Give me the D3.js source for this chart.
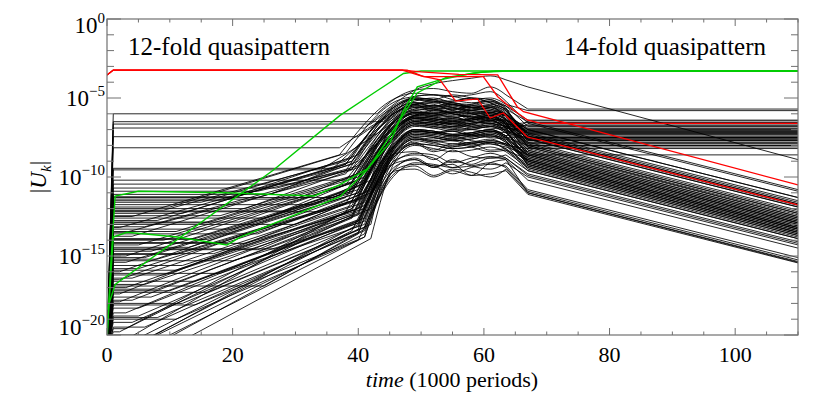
<!DOCTYPE html>
<html>
<head>
<meta charset="UTF-8">
<title>Mode amplitudes</title>
<script src="https://d3js.org/d3.v7.min.js"></script>
<style>
  body { margin: 0; background: #fff; }
  text { font-family: "Liberation Serif", "Times New Roman", serif; fill: #000; }
</style>
</head>
<body>
<svg id="chart" width="822" height="411"></svg>
<script>
// ---- data (time in 1000 periods, values as log10 |U_k|) ----
const xTicks = [0, 20, 40, 60, 80, 100];
const yTicks = [0, -5, -10, -15, -20];

// times shared by all black modes during saturation
const HUMP_T = [46, 49, 52, 55, 58, 61, 63.5];
const DROP_T = 67, END_T = 110, JUMP_T = 1, FLOOR = -21;

// row: [plateau, onset, bendT, bendV, h46, h49, h52, h55, h58, h61, h63.5, at67, at110]
const upperModes = [
  [-6.0, 43, 0, 0, -5.0, -4.5, -4.4, -4.6, -4.7, -4.3, -4.8, -5.7, -5.7],
  [-6.5, 44, 0, 0, -5.8, -4.9, -4.8, -4.9, -5.1, -5.0, -5.4, -5.8, -5.8],
  [-6.65, 42, 0, 0, -5.5, -5.0, -5.1, -4.8, -5.0, -5.3, -5.7, -6.5, -10.8],
  [-6.9, 41, 0, 0, -5.3, -4.5, -4.1, -3.9, -3.75, -3.6, -3.85, -4.3, -8.9],
  [-7.45, 40, 0, 0, -5.9, -5.3, -5.6, -5.7, -5.5, -5.3, -5.5, -6.4, -6.4],
  [-8.15, 37, 0, 0, -5.8, -5.1, -5.2, -5.4, -5.6, -5.5, -6.0, -7.0, -11.3],
  [-9.45, 36, 0, 0, -6.1, -5.4, -5.9, -5.8, -5.6, -5.7, -6.2, -7.2, -7.2],
  [-9.55, 34, 0, 0, -6.4, -5.5, -5.5, -5.8, -6.0, -5.9, -6.3, -7.4, -11.7],
  [-10.2, 38, 0, 0, -6.7, -5.9, -6.0, -5.7, -6.0, -6.3, -6.4, -7.5, -7.5],
  [-10.45, 30, 40, -9.0, -6.2, -5.5, -5.7, -5.9, -5.7, -5.5, -6.4, -7.6, -11.9],
  [-10.7, 27, 40, -9.3, -6.5, -6.0, -6.1, -5.9, -6.4, -6.2, -6.6, -7.8, -7.8],
  [-10.9, 24, 39, -9.5, -6.9, -6.1, -5.8, -6.0, -6.2, -6.4, -6.8, -8.0, -12.3]
];
const middleModes = [
  [-11.1, 26, 39, -9.0, -6.0, -5.4, -5.3, -5.6, -5.8, -5.6, -6.1, -6.9, -6.9],
  [-11.25, 20, 40, -8.6, -5.5, -5.1, -5.3, -5.2, -5.0, -5.3, -5.9, -7.3, -11.6],
  [-11.4, 30, 41, -9.6, -6.3, -5.8, -5.7, -6.0, -6.2, -6.0, -6.4, -7.1, -7.1],
  [-11.6, 15, 39, -8.8, -5.4, -5.0, -5.1, -5.5, -5.4, -5.1, -5.7, -7.6, -11.9],
  [-11.75, 33, 41, -10.2, -6.7, -6.0, -6.2, -6.3, -6.0, -6.1, -6.6, -7.0, -7.0],
  [-11.9, 10, 38, -8.5, -5.2, -4.9, -4.8, -5.1, -5.3, -5.2, -5.6, -7.8, -12.1],
  [-12.0, 22, 40, -9.4, -6.0, -5.4, -5.5, -5.3, -5.6, -5.8, -6.0, -7.7, -7.7],
  [-12.15, 28, 41, -10.0, -6.6, -5.9, -6.1, -6.2, -6.4, -6.1, -6.7, -8.3, -12.6],
  [-12.3, 12, 39, -9.0, -5.7, -5.3, -5.4, -5.7, -5.5, -5.6, -6.1, -7.3, -7.3],
  [-12.45, 18, 40, -9.8, -6.4, -5.8, -6.0, -5.9, -6.2, -6.4, -6.4, -8.0, -12.3],
  [-12.6, 25, 41, -10.4, -6.9, -6.2, -6.3, -6.5, -6.3, -6.2, -6.8, -7.35, -7.35],
  [-12.75, 8, 38, -9.2, -5.6, -5.1, -5.2, -5.4, -5.6, -5.4, -5.7, -7.4, -11.7],
  [-12.9, 16, 40, -10.0, -6.5, -6.0, -6.1, -5.9, -6.0, -6.3, -6.5, -8.1, -12.5],
  [-13.0, 30, 42, -11.0, -7.5, -6.6, -6.7, -6.9, -7.0, -6.8, -7.2, -6.65, -6.65],
  [-13.15, 6, 39, -9.5, -5.9, -5.5, -5.6, -5.4, -5.7, -5.8, -6.0, -7.5, -7.5],
  [-13.3, 20, 40, -10.6, -7.0, -6.3, -6.4, -6.6, -6.6, -6.4, -6.9, -8.6, -12.9],
  [-13.45, 11, 39, -10.0, -6.4, -5.9, -6.0, -6.1, -5.9, -6.0, -6.3, -7.9, -7.9],
  [-13.6, 24, 41, -11.0, -7.3, -6.5, -6.7, -6.6, -6.9, -6.7, -7.1, -8.8, -13.1],
  [-13.75, 4, 38, -9.6, -5.9, -5.4, -5.2, -5.3, -5.5, -5.5, -5.8, -7.2, -11.5],
  [-13.9, 14, 40, -10.8, -7.2, -6.4, -6.5, -6.7, -6.6, -6.4, -6.9, -7.05, -7.05],
  [-14.0, 9, 39, -10.4, -6.8, -6.1, -6.2, -6.0, -6.3, -6.5, -6.6, -8.2, -12.5],
  [-14.15, 19, 41, -11.3, -7.7, -7.0, -7.1, -7.3, -7.2, -7.0, -7.4, -9.0, -13.3],
  [-14.3, 5, 39, -10.3, -6.7, -6.1, -5.9, -6.0, -6.2, -6.1, -6.5, -7.6, -7.6],
  [-14.45, 13, 40, -11.0, -7.4, -6.7, -6.8, -6.9, -6.7, -6.6, -7.1, -8.9, -13.2],
  [-14.55, 27, 42, -12.0, -8.5, -7.9, -8.4, -8.1, -7.9, -8.3, -8.2, -9.6, -13.9],
  [-14.7, 7, 39, -10.8, -7.1, -6.4, -6.5, -6.7, -6.8, -6.6, -7.0, -7.65, -7.65],
  [-14.85, 17, 41, -11.6, -8.0, -7.3, -7.4, -7.6, -7.4, -7.3, -7.7, -9.2, -13.5],
  [-15.0, 3, 38, -10.5, -6.8, -6.2, -6.3, -6.4, -6.3, -6.1, -6.7, -8.0, -8.0],
  [-11.3, 36, 42, -10.2, -6.3, -5.7, -5.5, -5.6, -5.8, -5.9, -6.1, -7.0, -11.3],
  [-12.2, 34, 42, -10.8, -6.9, -6.3, -6.4, -6.2, -6.5, -6.6, -6.8, -6.75, -6.75],
  [-13.2, 2, 38, -9.2, -5.5, -5.0, -5.1, -5.2, -5.0, -5.1, -5.5, -6.8, -6.8],
  [-14.2, 22, 41, -12.0, -8.4, -7.6, -7.8, -8.1, -7.9, -7.7, -7.9, -9.5, -13.8],
  [-14.9, 11, 40, -11.5, -7.9, -7.1, -7.2, -7.0, -7.3, -7.4, -7.5, -7.45, -7.45],
  [-12.5, 4, 37, -8.6, -5.0, -4.7, -4.8, -4.9, -4.8, -4.6, -5.2, -6.6, -10.9]
];
const lowerModes = [
  [-15.2, 8, 40, -11.4, -6.9, -6.1, -6.2, -6.4, -6.3, -6.1, -6.5, -8.7, -13.0],
  [-15.4, 3, 39, -10.9, -6.4, -5.7, -5.8, -5.6, -5.9, -6.0, -6.1, -8.1, -8.1],
  [-15.6, 12, 40, -12.0, -8.4, -7.8, -8.3, -7.9, -8.1, -8.4, -8.3, -9.3, -13.6],
  [-15.8, 5, 39, -11.5, -7.0, -6.2, -6.3, -6.5, -6.4, -6.2, -6.6, -8.5, -12.8],
  [-16.0, 2, 38, -11.0, -6.3, -5.6, -5.7, -5.9, -5.8, -5.6, -6.0, -7.7, -7.7],
  [-16.2, 9, 40, -12.2, -8.5, -8.4, -8.9, -8.3, -8.7, -8.8, -8.6, -9.6, -13.9],
  [-16.4, 4, 39, -11.8, -7.3, -6.5, -6.6, -6.8, -6.7, -6.4, -6.9, -9.1, -13.4],
  [-16.6, 14, 41, -12.6, -8.9, -8.6, -8.8, -9.4, -9.0, -8.7, -8.9, -10.2, -14.5],
  [-16.8, 6, 40, -12.3, -7.8, -7.0, -7.1, -7.3, -7.2, -7.0, -7.4, -7.15, -7.15],
  [-17.0, 3, 39, -12.0, -7.4, -6.6, -6.7, -6.5, -6.8, -6.9, -7.0, -9.3, -13.6],
  [-17.2, 10, 40, -12.8, -9.1, -8.9, -9.4, -8.9, -9.3, -9.5, -9.1, -10.0, -14.3],
  [-17.4, 2, 38, -11.7, -7.1, -6.3, -6.4, -6.6, -6.5, -6.3, -6.7, -6.55, -6.55],
  [-17.6, 7, 40, -12.7, -9.0, -8.5, -8.6, -9.1, -8.8, -8.5, -8.8, -9.8, -14.1],
  [-17.8, 4, 39, -12.4, -7.9, -7.1, -7.2, -7.4, -7.3, -7.1, -7.5, -9.2, -13.5],
  [-18.0, 12, 41, -13.2, -9.5, -9.2, -9.3, -9.8, -9.4, -9.2, -9.3, -10.8, -15.1],
  [-18.3, 5, 40, -12.9, -8.4, -7.6, -7.7, -7.9, -7.8, -7.6, -8.0, -9.4, -13.7],
  [-18.6, 3, 39, -12.6, -8.0, -7.2, -7.3, -7.1, -7.4, -7.5, -7.6, -9.0, -13.3],
  [-18.9, 8, 41, -13.4, -9.7, -9.3, -9.9, -9.5, -9.7, -10.0, -9.5, -11.0, -15.35],
  [-19.2, 4, 40, -13.1, -8.6, -7.9, -8.0, -8.2, -8.1, -7.8, -8.3, -8.9, -13.2],
  [-19.5, 6, 40, -13.5, -9.3, -8.9, -9.4, -9.0, -9.2, -8.8, -8.8, -9.9, -14.2],
  [-20.5, 5, 40, -13.3, -8.0, -7.2, -7.3, -7.5, -7.4, -7.2, -7.6, -8.6, -12.9],
  [-21, 5, 41, -13.8, -9.4, -8.8, -9.3, -9.2, -9.9, -9.1, -8.9, -11.0, -15.4],
  [-21, 6, 40, -13.6, -8.1, -7.4, -7.5, -7.7, -7.6, -7.4, -7.8, -8.8, -13.1],
  [-20.3, 3, 38, -12.2, -7.5, -6.7, -6.8, -7.0, -6.9, -6.7, -7.1, -7.55, -7.55],
  [-19.8, 2, 39, -12.0, -7.3, -6.5, -6.6, -6.4, -6.7, -6.8, -6.9, -8.3, -12.6],
  [-15.3, 20, 41, -12.8, -8.1, -7.3, -7.4, -7.6, -7.5, -7.3, -7.7, -9.1, -13.4],
  [-16.1, 18, 41, -13.0, -8.3, -7.5, -7.6, -7.4, -7.7, -7.8, -7.9, -8.4, -12.7],
  [-17.3, 16, 42, -13.0, -7.9, -7.1, -7.2, -7.4, -7.3, -7.1, -7.4, -8.7, -13.0],
  [-18.1, 14, 41, -13.8, -9.6, -9.5, -10.0, -9.6, -9.9, -9.8, -9.6, -11.1, -15.44],
  [-19.0, 11, 40, -14.0, -9.8, -9.1, -9.2, -9.4, -9.3, -9.1, -9.4, -10.9, -15.25]
];
const extraModes = [
  [-11.5, 18, 39, -9.2, -5.9, -5.3, -5.5, -5.4, -5.6, -5.7, -6.0, -7.25, -7.25],
  [-12.1, 9, 38, -9.0, -5.7, -5.2, -5.0, -5.3, -5.4, -5.2, -5.8, -7.5, -11.8],
  [-12.85, 21, 40, -10.2, -6.6, -5.9, -6.0, -6.2, -6.1, -5.9, -6.4, -6.95, -6.95],
  [-13.5, 3, 38, -9.8, -6.2, -5.6, -5.7, -5.5, -5.8, -5.9, -6.1, -7.9, -12.2],
  [-13.95, 16, 40, -11.0, -7.2, -6.5, -6.6, -6.8, -6.6, -6.5, -6.9, -7.15, -7.15],
  [-14.6, 24, 41, -11.8, -7.9, -7.0, -7.2, -7.1, -7.4, -7.2, -7.5, -8.6, -12.9],
  [-15.1, 6, 39, -11.0, -7.0, -6.3, -6.5, -6.6, -6.4, -6.3, -6.8, -7.85, -7.85],
  [-15.9, 11, 40, -12.0, -7.6, -6.8, -6.9, -7.1, -7.0, -6.8, -7.2, -8.4, -12.7],
  [-16.5, 2, 38, -11.3, -7.0, -6.2, -6.4, -6.3, -6.5, -6.6, -6.8, -8.1, -12.4],
  [-17.1, 8, 40, -12.4, -7.9, -7.1, -7.2, -7.4, -7.3, -7.1, -7.5, -8.0, -8.0],
  [-17.9, 2, 39, -12.1, -7.5, -6.7, -6.9, -6.8, -7.0, -7.1, -7.2, -8.5, -12.8],
  [-18.8, 5, 40, -12.8, -8.2, -7.4, -7.5, -7.7, -7.6, -7.4, -7.8, -8.9, -13.2],
  [-19.6, 3, 39, -12.5, -7.8, -7.0, -7.1, -7.3, -7.2, -7.0, -7.4, -6.45, -6.45],
  [-21, 3, 40, -13.0, -8.3, -7.5, -7.7, -7.6, -7.9, -7.7, -7.9, -9.0, -13.3],
  [-21, 9, 42, -13.9, -8.9, -8.0, -8.2, -8.4, -8.3, -8.1, -8.4, -9.4, -13.7],
  [-21, 1, 39, -13.4, -8.6, -7.7, -7.9, -8.0, -7.8, -7.9, -8.1, -8.6, -8.6],
  [-20.0, 8, 41, -13.6, -8.7, -7.9, -8.0, -8.2, -8.1, -7.9, -8.2, -9.2, -13.5],
  [-16.9, 25, 41, -13.3, -8.4, -7.6, -7.8, -7.7, -8.0, -7.8, -8.0, -8.2, -8.2]
];

// coloured modes, explicit [time, log10 value] knots
const greenLines = [
  [[0, -20.5], [0.6, -15.5], [1.3, -11.2], [5, -10.9], [19, -11.0], [33, -11.2], [37, -10.5], [41.4, -9.5],
   [45.1, -7.8], [47.2, -5.8], [49.4, -4.3], [53, -3.85], [58.3, -3.42], [62, -3.29], [110, -3.29]],
  [[0, -18.4], [1.3, -16.8], [26.5, -9.56], [37.1, -6.1], [42.4, -4.7], [47.2, -3.45], [50, -3.29], [110, -3.29]],
  [[0, -20], [1, -13.8], [3.2, -13.5], [11.2, -13.8], [19.1, -14.3], [21.2, -13.8], [37.1, -11.25], [41.4, -9.56],
   [44.6, -7.66], [49.4, -4.68], [54, -3.7], [60, -3.35], [64, -3.29], [110, -3.29]]
];
const redLines = [
  [[0, -3.55], [1, -3.23], [47.8, -3.23], [50.4, -3.65], [59.9, -3.65], [62.2, -4.92], [64.7, -5.76],
   [66.9, -6.39], [69, -6.6], [110, -6.6]],
  [[0, -3.55], [1, -3.23], [47, -3.23], [50, -3.6], [53, -3.85], [55.5, -5.2], [59, -5.06], [61, -6.27],
   [63.1, -5.95], [64.7, -6.6], [66.9, -7.47], [69, -7.66], [110, -11.77]],
  [[0, -3.55], [1, -3.23], [47, -3.23], [50, -3.35], [56, -3.5], [62.2, -3.54], [65.3, -5.55], [66.3, -5.87], [110, -10.5]]
];

// ---- layout ----
const L = 107, R = 798, T = 19, B = 335;
const svg = d3.select("#chart");
const x = d3.scaleLinear().domain([0, 110]).range([L, R]);
const y = d3.scaleLog().domain([1e-20, 1]).range([B, T]);

// split a mode into growth (straight), saturation (smoothed) and decay (straight) knots
function modeParts(r) {
  const [p0, t1, bT, bV] = r;
  const pre = [[0, FLOOR], [JUMP_T, p0]];
  if (t1 > JUMP_T) pre.push([t1, p0]);
  if (bT > t1) pre.push([bT, bV]);
  const mid = [pre[pre.length - 1]];
  HUMP_T.forEach((t, i) => mid.push([t, r[4 + i]]));
  const post = [mid[mid.length - 1], [DROP_T, r[11]], [END_T, r[12]]];
  return { pre, mid, post };
}

const line = d3.line()
  .x(d => x(d[0]))
  .y(d => y(Math.pow(10, d[1])));
const smooth = d3.line()
  .curve(d3.curveMonotoneX)
  .x(d => x(d[0]))
  .y(d => y(Math.pow(10, d[1])));

svg.append("clipPath").attr("id", "clip")
  .append("rect").attr("x", L).attr("y", T).attr("width", R - L).attr("height", B - T);

const plot = svg.append("g").attr("clip-path", "url(#clip)");

const blackModes = upperModes.concat(middleModes, lowerModes, extraModes);
plot.selectAll("path.black").data(blackModes).enter().append("path")
  .attr("class", "black")
  .attr("d", d => {
    const p = modeParts(d);
    return line(p.pre) + smooth(p.mid) + line(p.post);
  })
  .attr("fill", "none").attr("stroke", "#000").attr("stroke-width", 0.85)
  .attr("stroke-linejoin", "round");

plot.selectAll("path.green").data(greenLines).enter().append("path")
  .attr("class", "green")
  .attr("d", line)
  .attr("fill", "none").attr("stroke", "#00cc00").attr("stroke-width", 1.4);

plot.selectAll("path.red").data(redLines).enter().append("path")
  .attr("class", "red")
  .attr("d", line)
  .attr("fill", "none").attr("stroke", "#ff0000").attr("stroke-width", 1.3);

// ---- frame and ticks ----
const axisColor = "#707070";
svg.append("rect").attr("x", L).attr("y", T).attr("width", R - L).attr("height", B - T)
  .attr("fill", "none").attr("stroke", axisColor).attr("stroke-width", 1.2);

const ticks = svg.append("g").attr("stroke", axisColor).attr("stroke-width", 1);
d3.range(0, 111, 5).forEach(t => {
  const len = t % 20 === 0 ? 7 : 3.5;
  ticks.append("line").attr("x1", x(t)).attr("x2", x(t)).attr("y1", B).attr("y2", B - len);
  ticks.append("line").attr("x1", x(t)).attr("x2", x(t)).attr("y1", T).attr("y2", T + len);
});
d3.range(-20, 1).forEach(e => {
  const len = e % 5 === 0 ? 14 : 7;
  const yy = y(Math.pow(10, e));
  ticks.append("line").attr("x1", L).attr("x2", L + len).attr("y1", yy).attr("y2", yy);
  ticks.append("line").attr("x1", R).attr("x2", R - len).attr("y1", yy).attr("y2", yy);
});

// x tick labels
svg.selectAll("text.xt").data(xTicks).enter().append("text")
  .attr("x", d => x(d)).attr("y", 361.5)
  .attr("text-anchor", "middle").attr("font-size", 22)
  .text(d => d);

// y tick labels with superscript exponents
yTicks.forEach(e => {
  const yy = Math.max(33, Math.min(335, y(Math.pow(10, e)) + 8));
  const t = svg.append("text").attr("x", 105).attr("y", yy)
    .attr("text-anchor", "end").attr("font-size", 23);
  t.append("tspan").text("10");
  t.append("tspan").attr("font-size", 15).attr("dy", -10)
    .text(e === 0 ? "0" : "\u2212" + Math.abs(e));
});

// axis titles
const xt = svg.append("text").attr("x", 452).attr("y", 387)
  .attr("text-anchor", "middle").attr("font-size", 22);
xt.append("tspan").attr("font-style", "italic").text("time");
xt.append("tspan").text(" (1000 periods)");

const yt = svg.append("text")
  .attr("transform", "translate(46,177) rotate(-90)")
  .attr("text-anchor", "middle").attr("font-size", 23);
yt.append("tspan").text("|");
yt.append("tspan").attr("font-style", "italic").text("U");
yt.append("tspan").attr("font-style", "italic").attr("font-size", 15).attr("dy", 5).text("k");
yt.append("tspan").attr("dy", -5).text("|");

// annotations
svg.append("text").attr("x", 128).attr("y", 55).attr("font-size", 25).text("12-fold quasipattern");
svg.append("text").attr("x", 766).attr("y", 55).attr("text-anchor", "end").attr("font-size", 25)
  .text("14-fold quasipattern");
</script>
</body>
</html>
